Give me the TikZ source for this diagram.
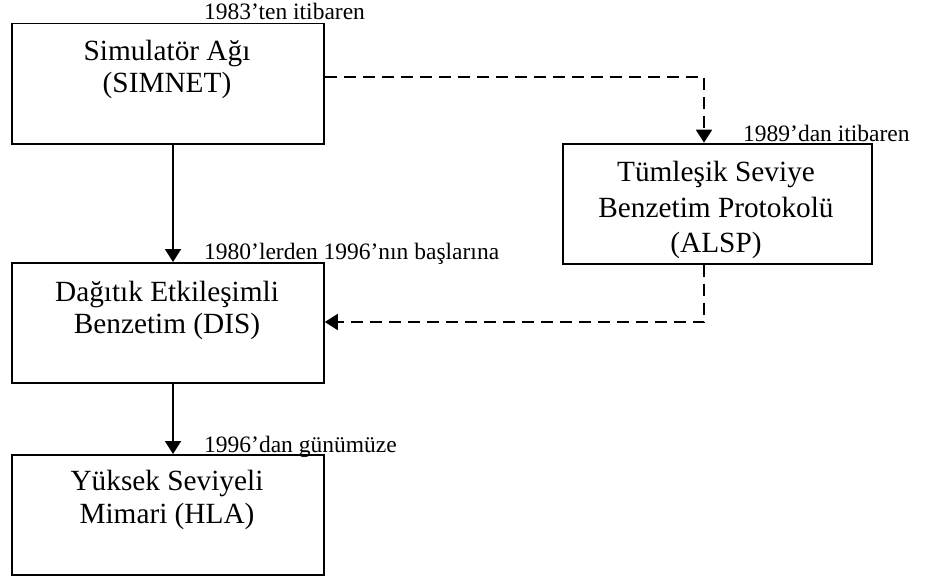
\documentclass[tikz,border=0pt]{standalone}
\usepackage{fontspec}
\setmainfont{Liberation Serif}
\usetikzlibrary{arrows.meta}

\begin{document}
\begin{tikzpicture}[x=1pt, y=-1pt,
  stagebox/.style={draw, line width=1.8pt, minimum width=312pt, minimum height=120pt,
                   inner sep=0pt, anchor=north west},
  boxtext/.style={font=\fontsize{29.3}{32}\selectfont, align=center, inner sep=0pt, anchor=base},
  period/.style={font=\fontsize{23.5}{26}\selectfont, inner sep=0pt, anchor=base west},
  flow/.style={line width=1.8pt, -{Triangle[width=16pt,length=13pt]}},
  influence/.style={flow, dash pattern=on 12pt off 7pt}]
\useasboundingbox (0,0) rectangle (928,578);

% stage boxes
\node[stagebox] (simnet) at (11,22.7) {};
\node[stagebox, minimum width=309pt] (alsp) at (561.7,142.7) {};
\node[stagebox] (dis) at (11,262) {};
\node[stagebox] (hla) at (11,454) {};

% box captions (anchored at the baseline of their last line)
\node[boxtext] (simnet-t) at (167,92.5) {Simulatör Ağı\\(SIMNET)};
\node[boxtext, font=\fontsize{29.3}{35.5}\selectfont] (alsp-t) at (716,252.5)
  {Tümleşik Seviye\\Benzetim Protokolü\\(ALSP)};
\node[boxtext] (dis-t) at (167,333.3) {Dağıtık Etkileşimli\\Benzetim (DIS)};
\node[boxtext, font=\fontsize{29.3}{33}\selectfont] (hla-t) at (167,523) {Yüksek Seviyeli\\Mimari (HLA)};

% period labels
\node[period] (simnet-l) at (204,20) {1983’ten itibaren};
\node[period] (alsp-l) at (743,141) {1989’dan itibaren};
\node[period] (dis-l) at (204,259) {1980’lerden 1996’nın başlarına};
\node[period] (hla-l) at (204,452.5) {1996’dan günümüze};

% connectors
\coordinate (ax) at (173,0);
\coordinate (dx) at (704,77);
\coordinate (dy) at (704,322);
\draw[flow] (simnet.south -| ax) -- (dis.north -| ax);
\draw[flow] (dis.south -| ax) -- (hla.north -| ax);
\draw[influence] (simnet.east |- dx) -- (dx) -- (alsp.north -| dx);
\draw[influence] (alsp.south -| dy) -- (dy) -- (dis.east |- dy);
\end{tikzpicture}
\end{document}
